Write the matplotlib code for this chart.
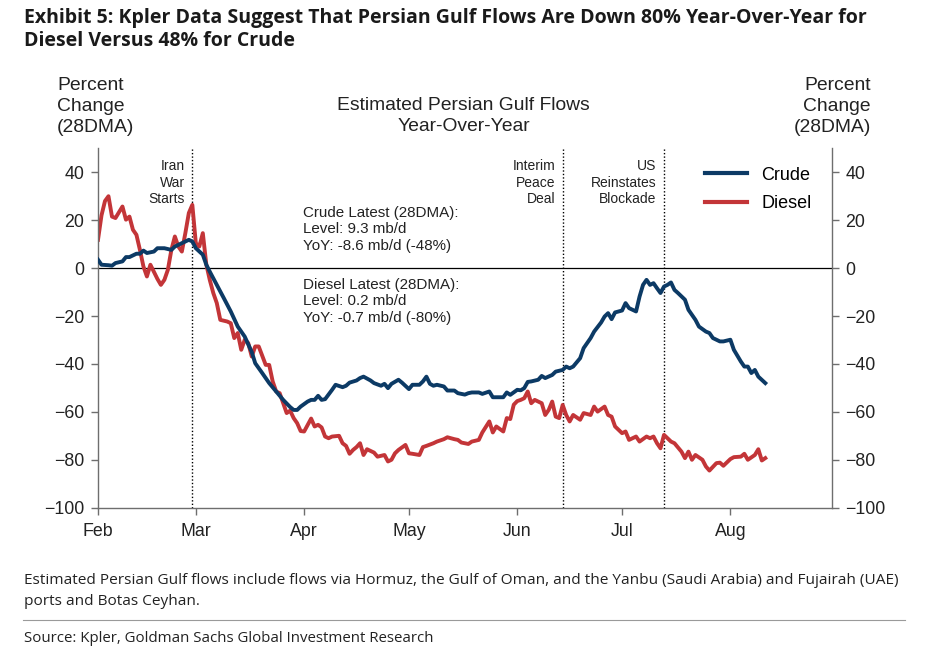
import numpy as np
import matplotlib
matplotlib.use("Agg")
import matplotlib.pyplot as plt
import matplotlib.dates as mdates

plt.rcParams['font.family'] = ['Liberation Sans', 'DejaVu Sans']
plt.rcParams['axes.unicode_minus'] = True

W, H = 932, 654

# days after 1 Feb 2026
start = np.datetime64('2026-02-01')

crude_day = [0, 1, 3, 4, 5, 7, 8, 9, 11, 12, 13, 14, 16, 17, 19, 21, 22, 24, 26, 27,
             28, 30, 31, 32, 34, 36, 38, 40, 42, 44, 45, 47, 49, 51, 53, 55, 56, 57, 58, 60,
             61, 62, 63, 64, 65, 67, 68, 70, 71, 72, 74, 75, 76, 78, 79, 81, 82, 83, 84, 86,
             87, 89, 90, 92, 93, 94, 95, 96, 97, 99, 100, 102, 103, 105, 106, 107, 109, 110, 112, 113,
             114, 116, 117, 118, 120, 121, 122, 123, 124, 126, 127, 128, 130, 131, 133, 134, 135, 136, 138, 139,
             141, 142, 144, 145, 146, 147, 148, 150, 151, 152, 154, 155, 156, 157, 158, 159, 160, 161, 162, 163,
             164, 165, 166, 168, 169, 171, 172, 174, 175, 176, 178, 179, 181, 182, 184, 185, 186, 187, 188, 189,
             191]
crude_val = [3.5, 1.4, 1.2, 1.0, 2.1, 2.8, 4.6, 4.6, 6.0, 6.0, 7.3, 6.3, 6.9, 8.3, 8.3, 7.6, 9.0, 10.4, 11.8, 11.1,
             8.3, 5.6, 1.4, -1.5, -7.0, -12.5, -18.1, -24.4, -28.6, -35.0, -39.7, -43.8, -48.0, -51.5, -55.0, -58.0, -59.2, -59.2, -57.8, -55.7,
             -55.0, -55.0, -53.3, -55.0, -54.7, -50.8, -48.7, -49.7, -49.1, -47.8, -46.9, -45.9, -45.3, -46.9, -48.0, -49.1, -48.3, -50.1, -48.3, -46.6,
             -47.8, -50.5, -48.7, -48.7, -47.3, -45.3, -48.3, -49.1, -48.7, -49.4, -51.1, -51.1, -52.2, -52.8, -52.2, -51.9, -51.9, -52.5, -51.5, -53.9,
             -53.9, -53.9, -51.9, -52.9, -50.8, -51.0, -50.1, -47.5, -47.3, -46.6, -45.0, -45.9, -44.6, -43.2, -42.5, -41.1, -41.8, -41.1, -37.6, -33.4,
             -29.2, -26.5, -22.7, -20.2, -18.8, -21.3, -18.5, -17.7, -14.6, -16.7, -18.1, -11.9, -7.0, -4.9, -7.0, -6.3, -8.4, -10.4, -7.7, -7.0,
             -6.0, -9.1, -10.4, -13.2, -17.4, -21.6, -24.4, -26.5, -27.1, -29.2, -30.6, -30.6, -29.9, -34.1, -39.0, -41.1, -41.1, -43.8, -42.5, -45.3,
             -48.0]

diesel_day = [0, 1, 2, 3, 4, 5, 7, 8, 9, 10, 11, 12, 13, 14, 15, 16, 17, 18, 19, 20,
              21, 22, 23, 24, 25, 26, 27, 28, 29, 30, 31, 32, 33, 34, 35, 37, 38, 39, 40, 41,
              42, 43, 44, 45, 46, 48, 49, 50, 51, 52, 53, 54, 55, 56, 57, 58, 59, 61, 62, 63,
              64, 65, 66, 67, 69, 70, 71, 72, 73, 74, 75, 76, 77, 79, 80, 82, 83, 84, 85, 86,
              88, 89, 90, 92, 93, 94, 96, 97, 99, 100, 102, 103, 104, 106, 107, 109, 110, 112, 113, 114,
              116, 117, 118, 119, 120, 121, 122, 123, 124, 125, 127, 128, 129, 130, 131, 132, 133, 134, 135, 136,
              138, 139, 141, 142, 143, 145, 146, 147, 148, 150, 151, 152, 154, 155, 157, 158, 159, 160, 161, 162,
              164, 165, 167, 168, 169, 170, 171, 173, 174, 175, 177, 178, 179, 181, 182, 184, 185, 186, 188, 189,
              190, 191]
diesel_val = [11.8, 22.0, 28.0, 30.0, 21.5, 20.9, 25.7, 20.2, 21.5, 16.0, 13.9, 7.6, 0.7, -3.5, 1.4, -1.5, -4.5, -7.0, -4.9, -0.7,
              7.6, 13.2, 9.0, 6.9, 14.6, 23.0, 26.4, 10.4, 9.0, 14.6, 1.5, -5.0, -10.4, -14.6, -21.6, -22.3, -23.0, -29.2, -27.1, -34.1,
              -29.9, -31.3, -36.9, -32.7, -32.7, -40.4, -40.4, -47.3, -51.5, -52.2, -56.4, -60.5, -59.5, -62.6, -64.7, -68.0, -68.2, -62.8, -66.1, -65.4,
              -66.5, -70.3, -71.0, -70.3, -70.0, -73.1, -74.2, -77.5, -75.9, -74.7, -73.1, -78.0, -75.6, -77.0, -78.7, -78.0, -80.7, -80.0, -77.3, -75.9,
              -73.8, -77.3, -77.5, -78.0, -74.7, -74.2, -73.1, -72.4, -71.4, -70.6, -71.4, -71.7, -72.8, -73.4, -72.4, -71.7, -68.6, -64.0, -68.6, -66.1,
              -68.2, -62.6, -63.0, -57.0, -55.5, -55.0, -54.3, -51.5, -56.4, -55.0, -56.4, -61.3, -59.2, -55.7, -62.0, -62.6, -57.1, -61.3, -64.0, -61.3,
              -63.3, -60.5, -61.3, -57.8, -59.9, -57.8, -61.3, -62.0, -66.1, -68.9, -68.2, -71.7, -70.3, -72.4, -70.3, -71.0, -70.3, -73.1, -75.2, -69.6,
              -72.4, -73.1, -76.6, -79.3, -76.6, -80.0, -78.0, -80.0, -82.8, -84.5, -81.4, -81.2, -82.5, -79.7, -78.9, -78.7, -77.5, -80.0, -78.0, -75.6,
              -80.3, -79.3]

events = ['2026-02-28', '2026-06-14', '2026-07-13']
event_labels = ['Iran\nWar\nStarts', 'Interim\nPeace\nDeal', 'US\nReinstates\nBlockade']
y_ticks = [-100, -80, -60, -40, -20, 0, 20, 40]

crude_color = '#0c3a65'
diesel_color = '#c33538'
axis_gray = '#6e6e6e'


def fx(px):
    return px / W


def fy(py):
    return 1 - py / H


fig = plt.figure(figsize=(W / 100, H / 100), dpi=100)
ax = fig.add_axes([fx(98), fy(507.7), fx(831.7) - fx(98), fy(148.3) - fy(507.7)])

crude_dates = start + np.array(crude_day, dtype='timedelta64[D]')
diesel_dates = start + np.array(diesel_day, dtype='timedelta64[D]')

ax.axhline(0, color='black', lw=0.9, zorder=1)
for d, lab in zip(events, event_labels):
    ax.axvline(np.datetime64(d), color='black', lw=1.0, ls=(0, (1, 1.5)), zorder=1)
    ax.annotate(lab, xy=(np.datetime64(d), 1), xycoords=('data', 'axes fraction'),
                xytext=(-5.5, -8), textcoords='offset points', ha='right', va='top',
                fontsize=10, linespacing=1.2, color='#222222')

ax.plot(crude_dates, crude_val, color=crude_color, lw=2.8, label='Crude', zorder=3)
ax.plot(diesel_dates, diesel_val, color=diesel_color, lw=2.8, label='Diesel', zorder=2)

ax.set_xlim(start, start + np.timedelta64(210, 'D'))
ax.set_ylim(-100, 50)
ax.set_yticks(y_ticks)
ax.xaxis.set_major_locator(mdates.MonthLocator())
ax.xaxis.set_major_formatter(mdates.DateFormatter('%b'))

for s in ['left', 'right', 'bottom']:
    ax.spines[s].set_color(axis_gray)
    ax.spines[s].set_linewidth(1.0)
ax.spines['top'].set_visible(False)
ax.tick_params(axis='both', direction='out', length=5, width=1, color=axis_gray,
               labelsize=12.8, labelcolor='#222222')
ax.tick_params(axis='y', right=True, labelright=True, pad=5)
ax.tick_params(axis='x', pad=6)

leg = ax.legend(loc='upper left', bbox_to_anchor=((705 - 98) / 733.7, 0.949), frameon=False,
                fontsize=13, handlelength=2.3, handletextpad=0.83, labelspacing=0.62,
                borderpad=0, borderaxespad=0)
for line in leg.get_lines():
    line.set_linewidth(3.0)

note_kw = dict(transform=ax.transAxes, ha='left', va='top', fontsize=10.9,
               linespacing=1.22, color='#222222')
ax.text(0.2798, 0.8394, 'Crude Latest (28DMA):\nLevel: 9.3 mb/d\nYoY: -8.6 mb/d (-48%)', **note_kw)
ax.text(0.2798, 0.6397, 'Diesel Latest (28DMA):\nLevel: 0.2 mb/d\nYoY: -0.7 mb/d (-80%)', **note_kw)

lab_kw = dict(fontsize=13.9, linespacing=1.28, color='#222222', va='top')
fig.text(fx(57), fy(77.5), 'Percent\nChange\n(28DMA)', ha='left', **lab_kw)
fig.text(fx(871), fy(77.5), 'Percent\nChange\n(28DMA)', ha='right', **lab_kw)
fig.text(fx(463.5), fy(97), 'Estimated Persian Gulf Flows\nYear-Over-Year', ha='center', **lab_kw)

fig.text(fx(24), fy(8), 'Exhibit 5: Kpler Data Suggest That Persian Gulf Flows Are Down 80% Year-Over-Year for\n'
         'Diesel Versus 48% for Crude', ha='left', va='top', fontsize=14, fontweight='bold',
         family=['Open Sans', 'DejaVu Sans'], color='#1a1a1a', linespacing=1.2)
fig.text(fx(24), fy(573), 'Estimated Persian Gulf flows include flows via Hormuz, the Gulf of Oman, and the Yanbu '
         '(Saudi Arabia) and Fujairah (UAE)\nports and Botas Ceyhan.', ha='left', va='top', fontsize=11.1,
         family=['Open Sans', 'DejaVu Sans'], color='#222222', linespacing=1.58)
fig.add_artist(plt.Line2D([fx(23), fx(905)], [fy(620), fy(620)], color='#9a9a9a', lw=0.8))
fig.text(fx(24), fy(631), 'Source: Kpler, Goldman Sachs Global Investment Research', ha='left', va='top',
         fontsize=10.8, family=['Open Sans', 'DejaVu Sans'], color='#222222')

fig.savefig('out.png', dpi=100)
